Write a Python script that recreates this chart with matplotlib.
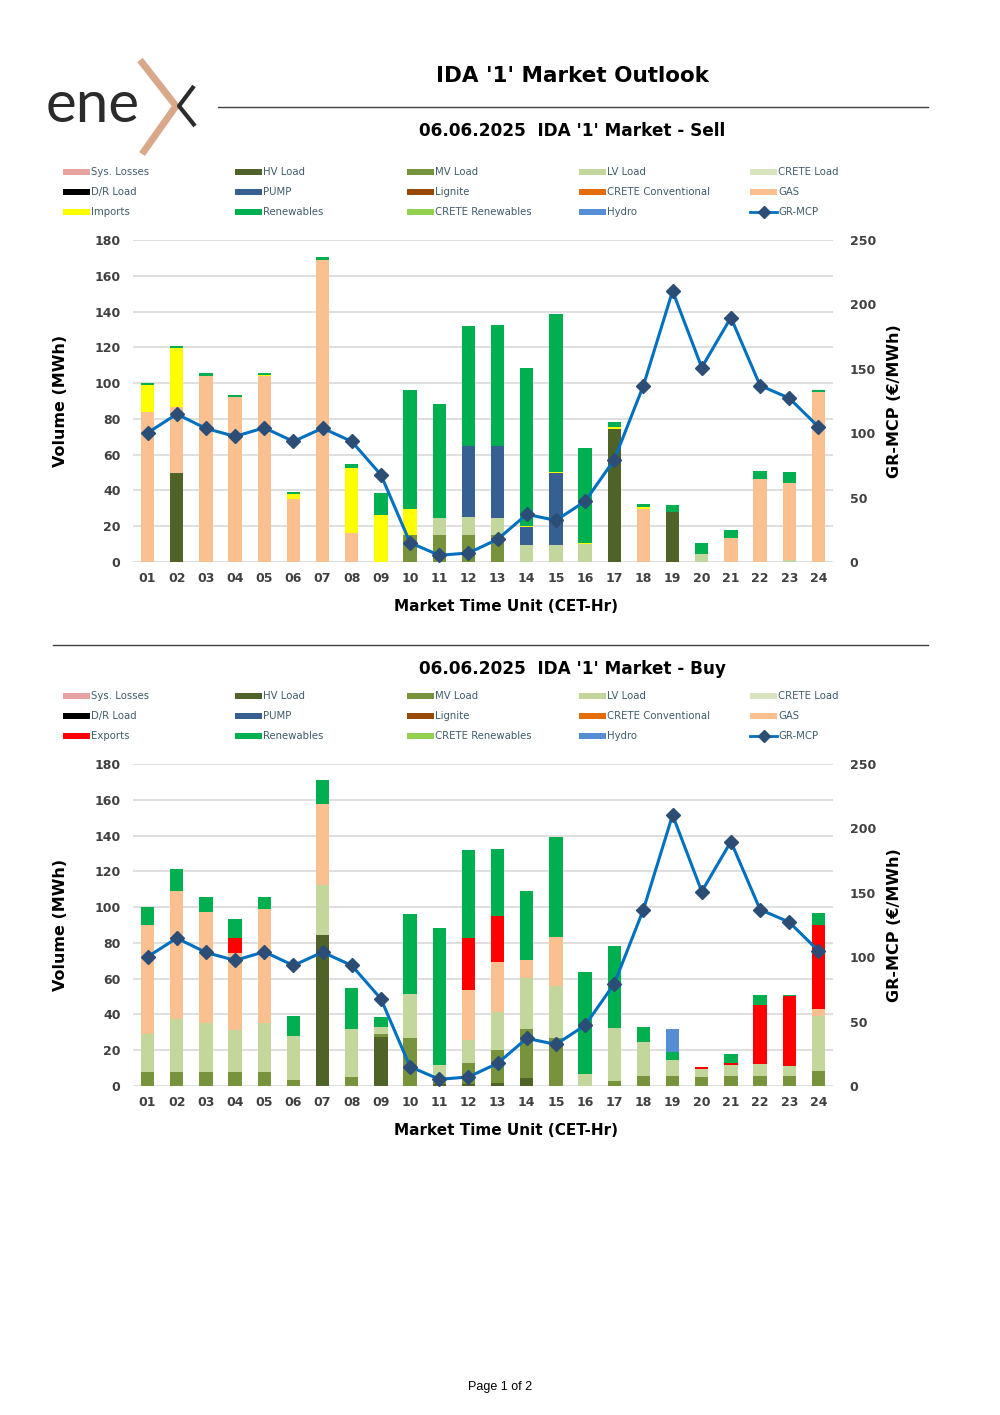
import numpy as np
import matplotlib.pyplot as plt
from matplotlib.patches import Rectangle

plt.rcParams['font.family'] = ['DejaVu Sans']

hours = ['%02d' % h for h in range(1, 25)]
date_str = '06.06.2025'

# GR-MCP (EUR/MWh), same on both charts
mcp = [100.3, 114.8, 103.7, 97.5, 104.2, 93.6, 103.9, 93.6, 67.7, 15.0, 5.2, 7.0,
       17.6, 37.0, 32.3, 47.1, 79.4, 137.0, 210.4, 151.0, 189.8, 137.0, 127.2, 105.0]

zeros = [0] * 24

# ---- Sell side (MWh)
sell_hv = [0, 49.5, 0, 0, 0, 0, 0, 0, 0, 0, 0, 0, 0, 0, 0, 0, 74.5, 0, 27.7, 0, 0, 0, 0, 0]
sell_mv = [0, 0, 0, 0, 0, 0, 0, 0, 0, 14.9, 14.9, 14.9, 14.9, 0, 0, 0, 0, 0, 0, 0, 0, 0, 0, 0]
sell_lv = [0, 0, 0, 0, 0, 0, 0, 0, 0, 0, 9.9, 10.2, 9.9, 9.7, 9.7, 10.2, 0, 0, 0, 4.5, 0, 0, 1.3, 0]
sell_pump = [0, 0, 0, 0, 0, 0, 0, 0, 0, 0, 0, 39.9, 39.8, 9.8, 39.8, 0, 0, 0, 0, 0, 0, 0, 0, 0]
sell_gas = [84.1, 37.4, 104.2, 92.0, 103.9, 35.2, 169.0, 16.4, 0, 0, 0, 0, 0, 0, 0, 0, 0,
            29.6, 0, 0, 13.6, 46.5, 42.8, 94.9]
sell_imports = [14.6, 32.8, 0, 0, 0.5, 2.6, 0, 36.1, 26.4, 14.5, 0, 0, 0, 0.6, 0.6, 0.6, 0.9,
                0.9, 0, 0, 0, 0, 0, 0]
sell_renew = [1.2, 1.3, 1.3, 1.3, 1.1, 1.3, 1.7, 2.2, 11.9, 66.8, 63.6, 66.8, 67.9, 88.6, 88.8,
              52.7, 2.8, 2.1, 4.1, 5.9, 4.5, 4.3, 6.3, 1.5]

# ---- Buy side (MWh)
buy_hv = [0, 0, 0, 0, 0, 0, 84.2, 0, 27.6, 0, 1.0, 1.2, 1.5, 4.5, 0, 0, 0, 0, 0, 0, 0, 0, 0, 0]
buy_mv = [7.8, 7.8, 7.8, 7.8, 7.8, 3.5, 0, 5.2, 1.3, 26.8, 1.4, 11.5, 18.8, 27.2, 26.8, 0, 2.8,
          5.6, 5.6, 4.8, 5.8, 5.4, 5.4, 8.2]
buy_lv = [21.5, 29.7, 27.6, 23.3, 27.6, 24.4, 28.3, 26.8, 4.1, 24.6, 9.6, 13.0, 21.3, 28.5, 28.9,
          6.5, 29.8, 19.0, 8.7, 4.9, 6.1, 7.1, 6.0, 30.7]
buy_gas = [60.9, 71.3, 61.7, 43.2, 63.7, 0, 45.1, 0, 0, 0, 0, 28.0, 27.9, 10.0, 27.8, 0, 0, 0, 0,
           0, 0, 0, 0, 4.3]
buy_exports = [0, 0, 0, 8.2, 0, 0, 0, 0, 0, 0, 0, 28.8, 25.7, 0, 0, 0, 0, 0, 0, 0.9, 0.8, 33.0,
               38.9, 47.0]
buy_renew = [9.7, 12.3, 8.4, 10.7, 6.4, 11.4, 13.3, 22.8, 5.4, 44.9, 76.4, 49.4, 37.5, 38.6, 55.5,
             57.2, 45.7, 8.2, 4.9, 0, 5.4, 5.6, 0.8, 6.3]
buy_hydro = [0, 0, 0, 0, 0, 0, 0, 0, 0, 0, 0, 0, 0, 0, 0, 0, 0, 0, 12.8, 0, 0, 0, 0, 0]

colors = {
    'Sys. Losses': '#e6a3a1', 'HV Load': '#4f6228', 'MV Load': '#77933c',
    'LV Load': '#c3d69b', 'CRETE Load': '#d7e4bd', 'D/R Load': '#000000',
    'PUMP': '#376092', 'Lignite': '#984807', 'CRETE Conventional': '#e46c0a',
    'GAS': '#fac090', 'Imports': '#ffff00', 'Exports': '#ff0000',
    'Renewables': '#00b050', 'CRETE Renewables': '#92d050', 'Hydro': '#558ed5',
}

sell_stack = [('Sys. Losses', zeros), ('HV Load', sell_hv), ('MV Load', sell_mv),
              ('LV Load', sell_lv), ('CRETE Load', zeros), ('D/R Load', zeros),
              ('PUMP', sell_pump), ('Lignite', zeros), ('CRETE Conventional', zeros),
              ('GAS', sell_gas), ('Imports', sell_imports), ('Renewables', sell_renew),
              ('CRETE Renewables', zeros), ('Hydro', zeros)]
buy_stack = [('Sys. Losses', zeros), ('HV Load', buy_hv), ('MV Load', buy_mv),
             ('LV Load', buy_lv), ('CRETE Load', zeros), ('D/R Load', zeros),
             ('PUMP', zeros), ('Lignite', zeros), ('CRETE Conventional', zeros),
             ('GAS', buy_gas), ('Exports', buy_exports), ('Renewables', buy_renew),
             ('CRETE Renewables', zeros), ('Hydro', buy_hydro)]

legend_order = ['Sys. Losses', 'HV Load', 'MV Load', 'LV Load', 'CRETE Load',
                'D/R Load', 'PUMP', 'Lignite', 'CRETE Conventional', 'GAS',
                None, 'Renewables', 'CRETE Renewables', 'Hydro', 'GR-MCP']

W, H = 1000, 1415
fig = plt.figure(figsize=(W / 100, H / 100), dpi=100)

# overlay in pixel coords for logo, rules, legends
ov = fig.add_axes([0, 0, 1, 1])
ov.set_xlim(0, W)
ov.set_ylim(H, 0)
ov.axis('off')

txt_col = '#404040'
leg_col = '#3e5c6b'
line_col = '#0070c0'
mark_col = '#2c4d75'


def fx(px):
    return px / W


def fy(py):
    return 1 - py / H


# logo
fig.text(fx(46), fy(106), 'ene', fontsize=42, family='Lato', weight='normal',
         color='#2b2b2b', va='center', ha='left')
ov.plot([140, 176, 142], [60, 106, 154], color='#d9a88a', lw=5, solid_capstyle='butt',
        solid_joinstyle='miter')
ov.plot([194, 179, 195], [86, 106, 126], color='#2b2b2b', lw=3, solid_capstyle='butt')

fig.text(fx(572), fy(76), "IDA '1' Market Outlook", fontsize=15.5, weight='bold',
         ha='center', va='center')
ov.plot([218, 928], [107, 107], color='#404040', lw=1.0)
ov.plot([53, 928], [645, 645], color='#404040', lw=1.0)

fig.text(fx(0.5 * W), fy(1387), 'Page 1 of 2', fontsize=9, family='Liberation Sans',
         ha='center', va='center')


def draw_legend(y0, flow_name):
    cols = [63, 235, 407, 579, 750]
    for i, name in enumerate(legend_order):
        r, c = divmod(i, 5)
        x = cols[c]
        y = y0 + r * 20
        if name is None:
            name = flow_name
        if name == 'GR-MCP':
            ov.plot([x, x + 27], [y, y], color=line_col, lw=2)
            ov.plot([x + 13.5], [y], marker='D', color=mark_col, ms=6)
        else:
            ov.add_patch(Rectangle((x, y - 3), 27, 6, color=colors[name], lw=0))
        ov.text(x + 28, y, name, fontsize=7.3, color=leg_col, va='center', ha='left')


def draw_chart(top_px, stack, title, title_py):
    bottom_px = top_px + 322
    ax = fig.add_axes([fx(133), fy(bottom_px), 700 / W, 322 / H])
    x = np.arange(24)
    base = np.zeros(24)
    for name, vals in stack:
        v = np.array(vals, dtype=float)
        ax.bar(x, v, width=0.46, bottom=base, color=colors[name], lw=0, zorder=2)
        base += v
    ax.set_xlim(-0.5, 23.5)
    ax.set_ylim(0, 180)
    ax.set_yticks(range(0, 181, 20))
    ax.set_xticks(x)
    ax.set_xticklabels(hours)
    ax.grid(axis='y', color='#d9d9d9', lw=1.2, zorder=0)
    ax.set_axisbelow(True)
    for s in ax.spines.values():
        s.set_visible(False)
    ax.tick_params(length=0, labelsize=9, labelcolor=txt_col)
    ax.tick_params(axis='y', pad=9)
    ax.tick_params(axis='x', pad=7)
    for lab in ax.get_xticklabels() + ax.get_yticklabels():
        lab.set_fontweight('bold')
    ax.set_ylabel('Volume (MWh)', fontsize=11.5, weight='bold')
    ax.yaxis.set_label_coords((68 - 133) / 700, 0.5)
    ax.set_xlabel('Market Time Unit (CET-Hr)', fontsize=11, weight='bold')
    ax.xaxis.set_label_coords((506 - 133) / 700, -0.115)

    ax2 = ax.twinx()
    ax2.plot(x, mcp, color=line_col, lw=2.2, marker='D', ms=7.5, mfc=mark_col,
             mec=mark_col, zorder=5)
    ax2.set_ylim(0, 250)
    ax2.set_yticks(range(0, 251, 50))
    for s in ax2.spines.values():
        s.set_visible(False)
    ax2.tick_params(length=0, labelsize=9, labelcolor=txt_col, pad=12)
    for lab in ax2.get_yticklabels():
        lab.set_fontweight('bold')
    ax2.set_ylabel('GR-MCP (€/MWh)', fontsize=11.5, weight='bold')
    ax2.yaxis.set_label_coords((887 - 133) / 700, 0.5)

    fig.text(fx(572), fy(title_py), title, fontsize=12.2, weight='bold',
             ha='center', va='center')


draw_chart(240, sell_stack, date_str + "  IDA '1' Market - Sell", 131)
draw_legend(172, 'Imports')
draw_chart(764, buy_stack, date_str + "  IDA '1' Market - Buy", 669)
draw_legend(696, 'Exports')

fig.savefig('out.png', dpi=100)
